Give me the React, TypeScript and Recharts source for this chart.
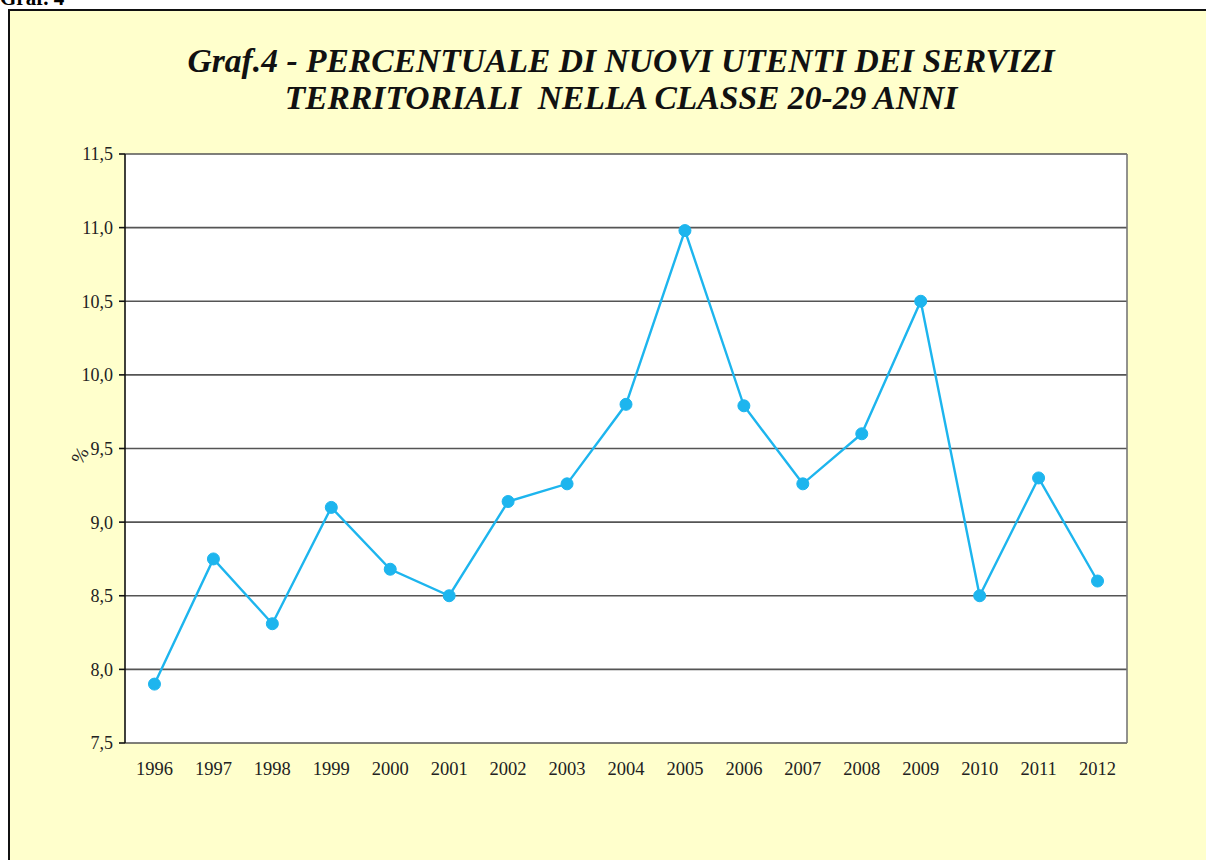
import React from "react";
import { LineChart, Line, XAxis, YAxis, CartesianGrid, ReferenceLine } from "recharts";

const years = ["1996","1997","1998","1999","2000","2001","2002","2003","2004","2005","2006","2007","2008","2009","2010","2011","2012"];
const values = [7.9, 8.75, 8.31, 9.1, 8.68, 8.5, 9.14, 9.26, 9.8, 10.98, 9.79, 9.26, 9.6, 10.5, 8.5, 9.3, 8.6];
const yTicks = [7.5, 8, 8.5, 9, 9.5, 10, 10.5, 11, 11.5];
const centerTicks = years.map((_, i) => i);
const edgeTicks = [...years.map((_, i) => i - 0.5), years.length - 0.5];

const data = years.map((y, i) => ({ i, year: y, v: values[i] }));

const serif = "'Liberation Serif', 'Times New Roman', serif";

export default function App() {
  return (
    <div style={{ position: "absolute", left: 0, top: 0, width: 1206, height: 860, overflow: "hidden", background: "#fff", fontFamily: serif }}>
      <div style={{ position: "absolute", left: 0, top: -14, fontSize: 21, fontWeight: "bold", color: "#000" }}>Graf. 4</div>
      <div style={{ position: "absolute", left: 8, top: 9, width: 1220, height: 880, background: "#FFFFCC", border: "2px solid #111", boxSizing: "border-box" }} />
      <div style={{ position: "absolute", left: 0, width: 1242, top: 42, textAlign: "center", fontSize: 33.6, fontWeight: "bold", fontStyle: "italic", color: "#111", lineHeight: "37px" }}>
        Graf.4 - PERCENTUALE DI NUOVI UTENTI DEI SERVIZI<br />TERRITORIALI&nbsp; NELLA CLASSE 20-29 ANNI
      </div>
      <div style={{ position: "absolute", left: 72, top: 446, fontSize: 19, lineHeight: "19px", color: "#222", transform: "rotate(-60deg)" }}>%</div>
      <div style={{ position: "absolute", left: 0, top: 0 }}>
        <LineChart width={1206} height={860} data={data} margin={{ top: 154, right: 79, left: 65, bottom: 87 }}>
          <CartesianGrid vertical={false} stroke="#555" strokeWidth={1.6} fill="#ffffff" fillOpacity={1} />
          <XAxis
            xAxisId="edges"
            dataKey="i"
            type="number"
            domain={[-0.5, years.length - 0.5]}
            ticks={edgeTicks}
            tickFormatter={() => ""}
            height={0}
            tickSize={6}
            stroke="#111"
            strokeWidth={1.6}
            allowDataOverflow
          />
          <XAxis
            xAxisId={0}
            dataKey="i"
            type="number"
            domain={[-0.5, years.length - 0.5]}
            ticks={centerTicks}
            tickFormatter={(v: number) => years[v] ?? ""}
            tickLine={false}
            axisLine={false}
            height={30}
            tickMargin={13}
            tick={{ fill: "#222", fontSize: 18.5, fontFamily: serif }}
            interval={0}
            allowDataOverflow
          />
          <YAxis
            domain={[7.5, 11.5]}
            ticks={yTicks}
            width={60}
            tickFormatter={(v: number) => v.toFixed(1).replace(".", ",")}
            tickSize={6}
            tickMargin={6}
            stroke="#111"
            strokeWidth={1.6}
            tick={{ fill: "#222", fontSize: 18, fontFamily: serif }}
            interval={0}
            allowDataOverflow
          />
          <ReferenceLine xAxisId="edges" x={years.length - 0.5} stroke="#777" strokeWidth={1.6} />
          <Line
            type="linear"
            dataKey="v"
            stroke="#1DB5EE"
            strokeWidth={2.4}
            dot={{ r: 6, fill: "#1DB5EE", stroke: "#1DB5EE", strokeWidth: 1 }}
            isAnimationActive={false}
          />
        </LineChart>
      </div>
    </div>
  );
}
